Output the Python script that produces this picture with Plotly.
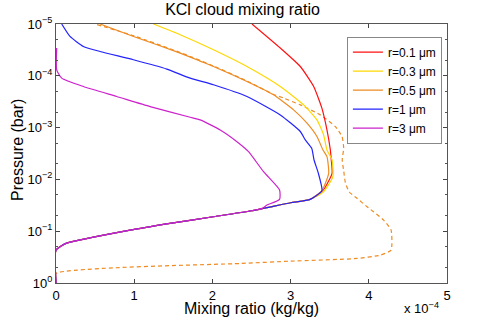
import plotly.graph_objects as go

# mixing ratio in units of 1e-4 kg/kg, pressure in bar
base_x = [0.0, 0.0, 0.128, 1.0, 1.5, 2.01, 2.5, 3.0, 3.25]
base_p = [1.0, 0.232, 0.172, 0.0923, 0.069, 0.0526, 0.0403, 0.0282, 0.0243]

red_x = [3.42, 3.53, 3.52, 3.508, 3.465, 3.40, 3.295, 3.124, 2.868, 2.506]
red_p = [0.0160, 0.00762, 0.0042, 0.0027, 0.00111, 0.000422, 0.000161, 0.0000661, 0.0000291, 0.00001]

yellow_x = [3.42, 3.54, 3.53, 3.465, 3.422, 3.337, 3.167, 2.868, 2.442, 2.014, 1.588, 1.246]
yellow_p = [0.0173, 0.00891, 0.00422, 0.0027, 0.00138, 0.00071, 0.000364, 0.000161, 0.0000661,
            0.0000314, 0.0000161, 0.00001]

orange_x = [3.40, 3.487, 3.465, 3.414, 3.337, 3.21, 3.038, 2.782, 2.442, 2.014, 1.844, 1.588, 1.0, 0.563]
orange_p = [0.0166, 0.00762, 0.00363, 0.0027, 0.00149, 0.000822, 0.000455, 0.000233, 0.000129,
            0.0000661, 0.000052, 0.0000364, 0.0000176, 0.00001]

blue_x = [3.40, 3.355, 3.30, 3.27, 3.188, 3.124, 2.868, 2.442, 2.014, 1.716, 1.417, 0.99, 0.563, 0.35, 0.179, 0.073]
blue_p = [0.0166, 0.00762, 0.00422, 0.0025, 0.00173, 0.00119, 0.000568, 0.000251, 0.000149, 0.000111,
          0.0000741, 0.000049, 0.0000339, 0.0000271, 0.0000174, 0.00001]

magenta_x = [0.0, 0.0, 0.128, 1.0, 1.5, 2.01, 2.5, 2.638, 2.698, 2.859, 2.859, 2.654, 2.462, 2.314, 2.10,
             1.844, 1.716, 1.204, 0.777, 0.35, 0.073, 0.009, 0.009]
magenta_p = [1.0, 0.232, 0.172, 0.0923, 0.069, 0.0526, 0.0403, 0.0362, 0.0313, 0.0243, 0.0160, 0.0071,
             0.00291, 0.00187, 0.00111, 0.00071, 0.00063, 0.000393, 0.000251, 0.000161, 0.000111,
             0.0000766, 0.0000291]

dashed_x = [0.0, 0.0, 2.356, 2.996, 3.85, 4.148, 4.285, 4.285, 4.19, 3.978, 3.85, 3.75, 3.70, 3.68, 3.66,
            3.679, 3.658, 3.572, 3.38, 3.124, 2.91, 2.782, 2.442, 2.014, 1.588, 1.0, 0.5]
dashed_p = [1.0, 0.655, 0.42, 0.379, 0.336, 0.29, 0.232, 0.0953, 0.061, 0.0337, 0.0232, 0.0175, 0.0115,
            0.0070, 0.00422, 0.0025, 0.00149, 0.000955, 0.000568, 0.000364, 0.000269, 0.000229,
            0.000126, 0.0000646, 0.0000355, 0.000017, 0.00001]

y_ticks = [1e-5, 1e-4, 1e-3, 1e-2, 1e-1, 1]
y_ticktext = ["10<sup>−5</sup>", "10<sup>−4</sup>", "10<sup>−3</sup>", "10<sup>−2</sup>",
              "10<sup>−1</sup>", "10<sup>0</sup>"]

FONT = "Liberation Sans, Arial, sans-serif"

fig = go.Figure()

# dashed orange curve (no legend entry)
fig.add_trace(go.Scatter(x=dashed_x, y=dashed_p, mode="lines", showlegend=False,
                         line=dict(color="#ee8b22", width=1.2, dash="4px,3px",
                                   shape="spline", smoothing=0.5)))

curves = [
    ("r=0.1 μm", base_x + red_x, base_p + red_p, "#ff1111"),
    ("r=0.3 μm", base_x + yellow_x, base_p + yellow_p, "#ffd700"),
    ("r=0.5 μm", base_x + orange_x, base_p + orange_p, "#ee8b22"),
    ("r=1 μm", base_x + blue_x, base_p + blue_p, "#2222ff"),
    ("r=3 μm", magenta_x, magenta_p, "#cc22cc"),
]
for name, xs, ps, col in curves:
    fig.add_trace(go.Scatter(x=xs, y=ps, mode="lines", name=name,
                             line=dict(color=col, width=1.2, shape="spline", smoothing=0.5)))

fig.update_layout(
    width=485, height=326,
    margin=dict(l=56, r=38, t=24, b=43),
    paper_bgcolor="white", plot_bgcolor="white",
    font=dict(family=FONT, size=13, color="black"),
    title=dict(text="KCl cloud mixing ratio", x=0.5, xanchor="center", y=0.972, yanchor="middle",
               font=dict(size=16)),
    legend=dict(x=0.744, y=0.951, xanchor="left", yanchor="top", bgcolor="white",
                bordercolor="#888", borderwidth=1, font=dict(size=12),
                tracegroupgap=0, itemwidth=30),
    showlegend=True,
)

fig.update_xaxes(range=[0, 5], tickvals=[0, 1, 2, 3, 4, 5], ticks="inside", ticklen=4,
                 showline=True, linecolor="#555", linewidth=1, mirror="ticks",
                 showgrid=False, zeroline=False, automargin=False)
fig.update_yaxes(type="log", range=[0, -5], tickvals=y_ticks, ticktext=y_ticktext,
                 ticks="inside", ticklen=4, showline=True, linecolor="#555", linewidth=1,
                 mirror="ticks", showgrid=False, zeroline=False, automargin=False,
                 minor=dict(ticks="inside", ticklen=2, showgrid=False, tickcolor="#555"))

# axis titles and exponent label
fig.add_annotation(text="Mixing ratio (kg/kg)", xref="paper", yref="paper", x=0.5, y=-0.097,
                   xanchor="center", yanchor="middle", showarrow=False, font=dict(size=16))
fig.add_annotation(text="Pressure (bar)", xref="paper", yref="paper", x=-0.097, y=0.514,
                   xanchor="center", yanchor="middle", textangle=-90, showarrow=False,
                   font=dict(size=16))
fig.add_annotation(text="x 10<sup>−4</sup>", xref="paper", yref="paper", x=0.985, y=-0.097,
                   xanchor="right", yanchor="middle", showarrow=False, font=dict(size=13))

fig.write_html("out.html", config={"displayModeBar": False},
               post_script="document.body.style.margin='0';")
